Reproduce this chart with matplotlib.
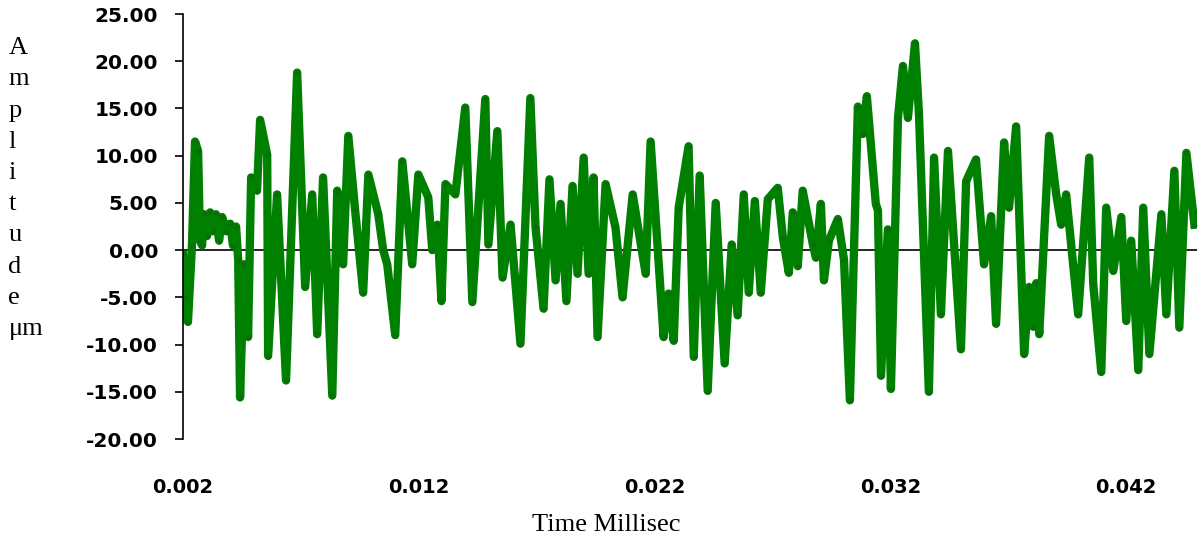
import matplotlib
matplotlib.use("Agg")
import matplotlib.pyplot as plt

# time (ms) and amplitude (um)
time_ms = [
    0.00200, 0.00208, 0.00221, 0.00238, 0.00251, 0.00264, 0.00272, 0.00281, 0.00289, 0.00302,
    0.00315, 0.00327, 0.00340, 0.00353, 0.00366, 0.00383, 0.00400, 0.00412, 0.00425, 0.00434,
    0.00442, 0.00459, 0.00476, 0.00489, 0.00514, 0.00527, 0.00557, 0.00561, 0.00599, 0.00637,
    0.00684, 0.00718, 0.00748, 0.00769, 0.00794, 0.00833, 0.00854, 0.00879, 0.00901,
    0.00930, 0.00964, 0.00986, 0.01028, 0.01049, 0.01066, 0.01100, 0.01130, 0.01172, 0.01198,
    0.01240, 0.01257, 0.01279, 0.01296, 0.01313, 0.01355, 0.01397, 0.01427, 0.01482, 0.01495,
    0.01533, 0.01555, 0.01589,
    0.01631, 0.01673, 0.01695, 0.01729, 0.01754, 0.01780, 0.01801, 0.01826, 0.01852, 0.01873,
    0.01899, 0.01920, 0.01941, 0.01958, 0.01992, 0.02034, 0.02064, 0.02107, 0.02162, 0.02183,
    0.02238, 0.02259, 0.02281, 0.02302,
    0.02344, 0.02366, 0.02391, 0.02425, 0.02459, 0.02497, 0.02527, 0.02552, 0.02578, 0.02599,
    0.02625, 0.02650, 0.02680, 0.02722, 0.02744, 0.02769, 0.02786, 0.02807, 0.02828, 0.02871,
    0.02884, 0.02905, 0.02918, 0.02939, 0.02977, 0.03003,
    0.03028, 0.03062, 0.03083, 0.03100, 0.03138, 0.03147, 0.03160, 0.03189, 0.03202, 0.03232,
    0.03253, 0.03274, 0.03304, 0.03321, 0.03363, 0.03385, 0.03414, 0.03444, 0.03499, 0.03521,
    0.03563, 0.03597, 0.03627, 0.03648, 0.03682, 0.03703, 0.03733,
    0.03767, 0.03788, 0.03805, 0.03818, 0.03831, 0.03873, 0.03903, 0.03924, 0.03945, 0.03996,
    0.04043, 0.04060, 0.04094, 0.04115, 0.04145, 0.04179, 0.04200, 0.04221, 0.04251, 0.04272,
    0.04298, 0.04349, 0.04370, 0.04404, 0.04425, 0.04455, 0.04489,
]
amplitude = [
    -0.5, -5.0, -7.6, 0.5, 11.5, 10.5, 1.0, 0.5, 3.8, 1.5,
    4.0, 2.0, 3.8, 1.0, 3.5, 2.0, 2.8, 0.5, 2.5, -1.0,
    -15.6, -1.5, -9.2, 7.7, 6.3, 13.8, 10.1, -11.2, 5.9, -13.8,
    18.8, -3.9, 5.9, -8.9, 7.7, -15.4, 6.3, -1.5, 12.1,
    4.2, -4.5, 8.0, 3.8, 0.0, -1.5, -9.0, 9.4, -1.5, 8.0,
    5.6, 0.0, 2.7, -5.4, 7.0, 5.9, 15.1, -5.5, 16.0, 0.6,
    12.6, -2.9, 2.7,
    -9.9, 16.1, 2.4, -6.2, 7.5, -3.2, 4.9, -5.4, 6.8, -2.5,
    9.8, -2.5, 7.7, -9.2, 7.0, 2.4, -5.0, 5.9, -2.5, 11.5,
    -9.2, -4.6, -9.6, 4.5,
    11.0, -11.3, 7.9, -14.9, 5.0, -12.0, 0.6, -6.9, 5.9, -4.5,
    5.2, -4.5, 5.4, 6.6, 1.3, -2.4, 4.0, -1.7, 6.3, 0.6,
    -0.8, 4.9, -3.2, 1.0, 3.3, -1.0,
    -15.9, 15.2, 12.3, 16.3, 4.9, 4.2, -13.3, 2.2, -14.7, 14.0,
    19.5, 14.0, 21.9, 14.4, -15.0, 9.8, -6.8, 10.5, -10.5, 7.3,
    9.6, -1.5, 3.6, -7.8, 11.4, 4.5, 13.1,
    -11.0, -3.9, -8.1, -3.5, -8.9, 12.1, 5.9, 2.7, 5.9, -6.8,
    9.8, -3.6, -12.9, 4.5, -2.2, 3.5, -7.5, 1.0, -12.7, 4.5,
    -11.0, 3.8, -6.8, 8.4, -8.2, 10.3, 2.7,
]

x_ticks = [0.002, 0.012, 0.022, 0.032, 0.042]
x_tick_labels = ["0.002", "0.012", "0.022", "0.032", "0.042"]
y_ticks = [-20, -15, -10, -5, 0, 5, 10, 15, 20, 25]

fig = plt.figure(figsize=(12, 5.4), dpi=100)
ax = fig.add_axes([0.1525, 0.187, 0.845, 0.787])

ax.axhline(0, color="black", linewidth=1.2, zorder=1)
ax.plot(time_ms, amplitude, color="#008000", linewidth=6, solid_joinstyle="round",
        marker="D", markersize=2.5, markerfacecolor="#0a6e0a", markeredgecolor="#0a6e0a",
        zorder=2)

ax.set_xlim(0.002, 0.0450)
ax.set_ylim(-20, 25)

for s in ["top", "right", "bottom"]:
    ax.spines[s].set_visible(False)
ax.spines["left"].set_linewidth(1.2)

ax.set_yticks(y_ticks)
ax.set_yticklabels(["%.2f" % v for v in y_ticks], fontfamily="DejaVu Sans",
                   fontweight="bold", fontsize=14.5)
ax.set_xticks(x_ticks)
ax.set_xticklabels(x_tick_labels, fontfamily="DejaVu Sans", fontweight="bold", fontsize=14)
ax.tick_params(axis="y", direction="out", length=6, width=1.2, pad=12)
ax.tick_params(axis="x", length=0, pad=28)

fig.text(0.007, 0.931, "A\nm\np\nl\ni\nt\nu\nd\ne\nμm", family="Liberation Serif",
         fontsize=19, ha="left", va="top", linespacing=1.54)
fig.text(0.505, 0.028, "Time Millisec", family="Liberation Serif", fontsize=19,
         ha="center", va="center")

fig.savefig("out.png", dpi=100)
